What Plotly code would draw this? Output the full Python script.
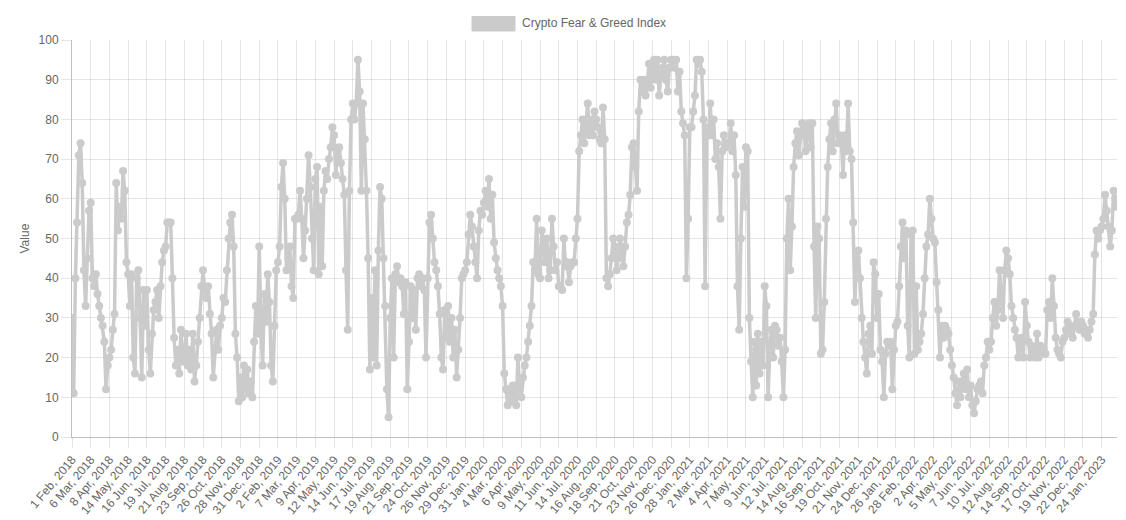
import pandas as pd
import plotly.graph_objects as go

SERIES_NAME = "Crypto Fear & Greed Index"
Y_TITLE = "Value"
START_DATE = "2018-02-01"
MISSING_DAYS = ["2018-04-14", "2018-04-15", "2018-04-16"]
STEP_DAYS = 3

TICK_LABELS = [
    "1 Feb, 2018", "6 Mar, 2018", "8 Apr, 2018", "14 May, 2018", "16 Jun, 2018",
    "19 Jul, 2018", "21 Aug, 2018", "23 Sep, 2018", "26 Oct, 2018", "28 Nov, 2018",
    "31 Dec, 2018", "2 Feb, 2019", "7 Mar, 2019", "9 Apr, 2019", "12 May, 2019",
    "14 Jun, 2019", "17 Jul, 2019", "19 Aug, 2019", "21 Sep, 2019", "24 Oct, 2019",
    "26 Nov, 2019", "29 Dec, 2019", "31 Jan, 2020", "4 Mar, 2020", "6 Apr, 2020",
    "9 May, 2020", "11 Jun, 2020", "14 Jul, 2020", "16 Aug, 2020", "18 Sep, 2020",
    "21 Oct, 2020", "23 Nov, 2020", "26 Dec, 2020", "28 Jan, 2021", "2 Mar, 2021",
    "4 Apr, 2021", "7 May, 2021", "9 Jun, 2021", "12 Jul, 2021", "14 Aug, 2021",
    "16 Sep, 2021", "19 Oct, 2021", "21 Nov, 2021", "24 Dec, 2021", "26 Jan, 2022",
    "28 Feb, 2022", "2 Apr, 2022", "5 May, 2022", "7 Jun, 2022", "10 Jul, 2022",
    "12 Aug, 2022", "14 Sep, 2022", "17 Oct, 2022", "19 Nov, 2022", "22 Dec, 2022",
    "24 Jan, 2023",
]

VALUES_2018 = [
    30, 11, 40, 54, 71, 74, 64, 42, 33, 45, 57,
    59, 40, 38, 41, 36, 33, 30, 28, 24, 12, 18,
    20, 22, 27, 31, 64, 52, 58, 55, 67, 62, 44,
    41, 33, 41, 20, 16, 40, 42, 30, 15, 37, 28,
    37, 22, 16, 26, 32, 34, 37, 30, 38, 44, 47,
    48, 54, 54, 54, 40, 25, 18, 22, 16, 27, 19,
    20, 26, 18, 22, 17, 26, 14, 18, 24, 30, 38,
    42, 37, 35, 38, 31, 26, 15, 22, 27, 22, 28,
    30, 35, 34, 42, 50, 54, 56, 48, 26, 20, 9,
    15, 10, 18, 12, 17, 11, 14, 10, 24, 33, 26,
    48, 27, 18, 36, 29, 41, 34, 18, 14, 28, 42,
]
VALUES_2019 = [
    44, 48, 63, 69, 60, 42, 45, 48, 38, 35, 55,
    55, 56, 62, 55, 45, 52, 60, 71, 63, 50, 42,
    65, 68, 41, 58, 43, 62, 67, 65, 70, 73, 78,
    76, 66, 72, 73, 69, 65, 61, 42, 27, 62, 80,
    84, 80, 84, 95, 87, 62, 84, 75, 62, 45, 17,
    35, 20, 42, 18, 47, 63, 60, 45, 33, 12, 5,
    30, 40, 20, 41, 43, 39, 40, 38, 31, 39, 12,
    24, 38, 30, 37, 27, 40, 41, 38, 40, 37, 20,
    40, 54, 56, 50, 44, 42, 38, 31, 20, 17, 32,
    25, 33, 24, 30, 20, 27, 15, 22, 30, 40, 41,
    42, 44, 51, 56, 53, 48, 44, 40, 52, 57, 56,
]
VALUES_2020 = [
    59, 62, 58, 65, 55, 61, 49, 45, 42, 40, 38,
    33, 16, 12, 8, 12, 9, 13, 10, 8, 20, 12,
    10, 15, 18, 20, 24, 28, 33, 44, 42, 55, 41,
    40, 52, 48, 44, 50, 40, 42, 55, 48, 42, 44,
    38, 38, 37, 50, 43, 44, 39, 43, 44, 44, 50,
    55, 72, 76, 80, 74, 78, 84, 76, 80, 76, 82,
    80, 78, 75, 74, 83, 75, 40, 38, 41, 45, 50,
    48, 42, 45, 50, 47, 43, 48, 54, 56, 61, 73,
    74, 68, 62, 82, 90, 87, 90, 86, 89, 94, 88,
    92, 95, 90, 95, 86, 91, 93, 95, 90, 87, 93, 95,
    95, 93, 95, 87, 92, 82, 79, 76, 40, 55, 78,
]
VALUES_2021 = [
    78, 82, 86, 95, 94, 95, 92, 80, 38, 78, 76,
    84, 76, 80, 70, 74, 68, 55, 72, 76, 73, 74,
    74, 79, 72, 76, 66, 38, 27, 50, 68, 58, 73,
    72, 30, 19, 10, 24, 13, 26, 16, 24, 18, 38,
    33, 10, 22, 27, 20, 28, 27, 23, 25, 19, 10,
    22, 50, 60, 42, 53, 68, 74, 77, 71, 76, 79,
    78, 72, 76, 79, 73, 79, 48, 30, 53, 50, 21,
    22, 34, 55, 68, 75, 79, 72, 80, 84, 74, 76,
    75, 66, 76, 72, 84, 72, 70, 54, 34, 45, 47,
    40, 30, 24, 20, 16, 26, 28, 21, 44, 41, 30,
]
VALUES_2022 = [
    36, 22, 19, 10, 21, 24, 23, 24, 12, 22, 28,
    29, 38, 48, 54, 45, 52, 28, 20, 51, 52, 21,
    38, 22, 24, 26, 31, 40, 48, 51, 60, 55, 50,
    49, 39, 32, 20, 28, 25, 28, 27, 26, 22, 18,
    15, 11, 8, 14, 10, 14, 16, 12, 17, 10,
    13, 8, 6, 9, 12, 13, 14, 11, 18, 20, 24,
    22, 24, 30, 34, 28, 32, 42, 34, 30, 42, 47,
    45, 41, 33, 30, 27, 25, 20, 23, 25, 20, 34,
    28, 24, 20, 23, 21, 20, 26, 20, 23, 21, 22,
    21, 32, 34, 30, 40, 33, 25, 22, 21, 20, 24,
    25, 27, 29, 28, 26, 25, 28, 31, 28, 27, 29,
]
VALUES_2023 = [
    28, 26, 27, 25, 27, 29, 31, 46, 52, 50, 52,
    53, 55, 61, 57, 53, 48, 52, 62, 60, 58,
]

values = VALUES_2018 + VALUES_2019 + VALUES_2020 + VALUES_2021 + VALUES_2022 + VALUES_2023

# calendar of observation dates (daily, minus the missing days), sampled every STEP_DAYS
days = pd.date_range(START_DATE, periods=len(values) * STEP_DAYS + 10, freq="D")
days = days[~days.isin(pd.to_datetime(MISSING_DAYS))]
days = days[::STEP_DAYS][: len(values)]
dates = [f"{d.day} {d.strftime('%b')}, {d.year}" for d in days]

GREY = "rgb(203,203,204)"
TEXT = "#666666"
GRID = "rgba(0,0,0,0.1)"
ZERO = "rgba(0,0,0,0.25)"
FONT = "Liberation Sans, Arial, Helvetica, sans-serif"

fig = go.Figure()
fig.add_trace(go.Scatter(
    x=dates, y=values, mode="lines+markers", name=SERIES_NAME,
    line=dict(color=GREY, width=3.5),
    marker=dict(color=GREY, size=8),
    showlegend=False,
))

L, R, T, B = 72, 9, 40, 83
W, H = 1126, 520
pw, ph = W - L - R, H - T - B

def px_x(x):
    return (x - L) / pw

def px_y(y):
    return (H - B - y) / ph

fig.update_layout(
    width=W, height=H,
    margin=dict(l=L, r=R, t=T, b=B, pad=0, autoexpand=False),
    paper_bgcolor="white", plot_bgcolor="white",
    font=dict(family=FONT, size=12, color=TEXT),
    shapes=[dict(
        type="rect", xref="paper", yref="paper",
        x0=px_x(472), x1=px_x(515), y0=px_y(31), y1=px_y(16.5),
        fillcolor=GREY, line=dict(color=GREY, width=1),
    )],
    annotations=[
        dict(text=SERIES_NAME, xref="paper", yref="paper", x=px_x(519.5), y=px_y(23.5),
             xanchor="left", yanchor="middle", showarrow=False,
             font=dict(family=FONT, size=12, color=TEXT)),
        dict(text=Y_TITLE, xref="paper", yref="paper", x=px_x(24), y=0.5,
             xanchor="center", yanchor="middle", textangle=-90, showarrow=False,
             font=dict(family=FONT, size=12, color=TEXT)),
    ],
)

fig.update_xaxes(
    type="category", automargin=False,
    range=[0, len(values) - 1],
    tickmode="array", tickvals=TICK_LABELS, ticktext=TICK_LABELS,
    tickangle=-50,
    showgrid=True, gridcolor=GRID, gridwidth=1,
    ticks="outside", ticklen=10, tickcolor=GRID,
    showline=True, linecolor=ZERO, linewidth=1,
    tickfont=dict(family=FONT, size=12, color=TEXT),
    zeroline=False,
)
fig.update_yaxes(
    automargin=False,
    range=[0, 100], dtick=10, tick0=0,
    showgrid=True, gridcolor=GRID, gridwidth=1,
    ticks="outside", ticklen=10, tickcolor=GRID,
    showline=True, linecolor=ZERO, linewidth=1,
    zeroline=True, zerolinecolor=ZERO, zerolinewidth=1,
    tickfont=dict(family=FONT, size=12, color=TEXT),
)

fig.write_html(
    "out.html",
    config={"displayModeBar": False},
    post_script="document.body.style.margin='0';document.body.style.overflow='hidden';",
)
